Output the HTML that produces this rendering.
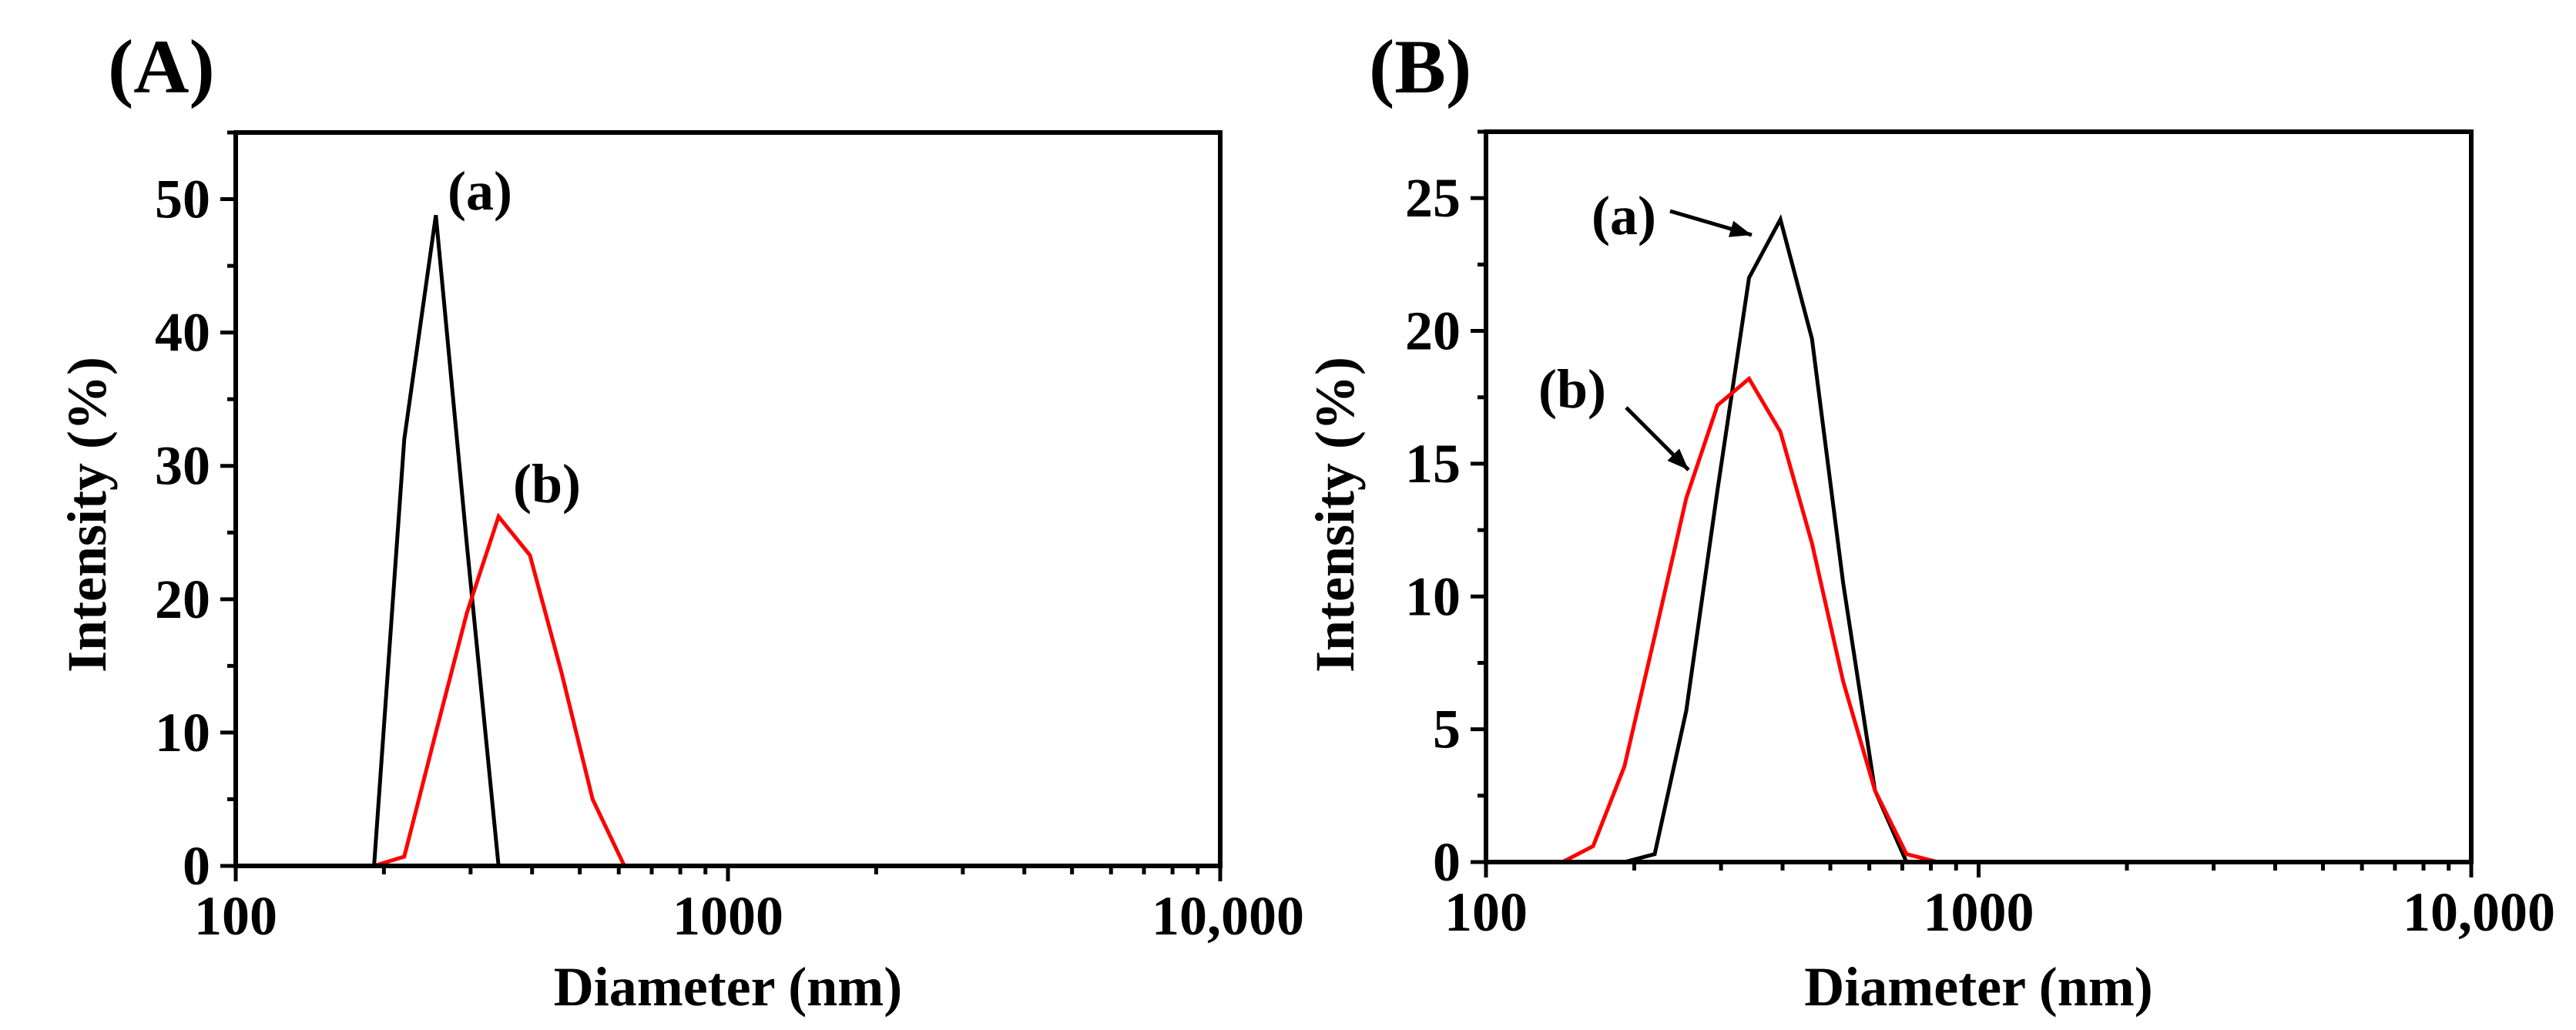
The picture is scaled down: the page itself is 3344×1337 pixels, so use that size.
<!DOCTYPE html>
<html><head><meta charset="utf-8"><style>
html,body{margin:0;padding:0;background:#fff;}
svg{display:block;font-family:"Liberation Serif",serif;font-weight:bold;}
</style></head><body>
<svg id="chart" width="3344" height="1337" viewBox="0 0 3344 1337" xmlns="http://www.w3.org/2000/svg">
<text x="140" y="120" font-size="100">(A)</text>
<text x="1777" y="120" font-size="100">(B)</text>
<g id="pa"></g>
<g id="pb"></g>
</svg>
<script>
// Panel A data
const diamA = [100,191,220,255,295,342,396,459,531,616,8700];
const blackA = [0,0,32,48.8,24,0,0,0,0,0,0];
const redA = [0,0,0.7,10,19,26.2,23.3,14.5,5,0,0];
const yTicksA = [0,10,20,30,40,50];
// Panel B data
const diamBb = [100,191,220,255,295,342,396,459,531,616,714,8700];
const blackB = [0,0,0.3,5.7,14,22,24.2,19.7,10.5,2.7,0,0];
const diamBr = [100,143,165,191,220,255,295,342,396,459,531,616,714,827,8700];
const redB = [0,0,0.6,3.6,8.5,13.7,17.2,18.2,16.2,12,6.8,2.7,0.3,0,0];
const yTicksB = [0,5,10,15,20,25];
const xTickLabels = ["100","1000","10,000"];
const xTickVals = [100,1000,10000];

const NS="http://www.w3.org/2000/svg";
function mk(parent,tag,attrs,text){const e=document.createElementNS(NS,tag);for(const k in attrs)e.setAttribute(k,attrs[k]);if(text!==undefined)e.textContent=text;parent.appendChild(e);return e;}

function panel(g,L,R,T,B,ymax,yTicks,yMinorStep,series){
  const xs=v=>L+(Math.log10(v)-2)/2*(R-L);
  const ys=v=>B-v/ymax*(B-T);
  series.forEach(s=>{
    const pts=s.x.map((d,i)=>xs(d).toFixed(1)+","+ys(s.y[i]).toFixed(1)).join(" ");
    const pl=mk(g,"polyline",{points:pts,fill:"none",stroke:s.c,"stroke-width":5,"stroke-linejoin":"miter"});
    
    
  });
  const fr=mk(g,"rect",{x:L,y:T,width:R-L,height:B-T,fill:"none",stroke:"#000","stroke-width":6});
  
  
  for(let v=0;v<=ymax+1e-9;v+=yMinorStep){
    const major=yTicks.some(t=>Math.abs(t-v)<1e-9);
    const t=mk(g,"line",{x1:L,x2:L-(major?20:11),y1:ys(v),y2:ys(v),stroke:"#000","stroke-width":5});
    
    
  }
  yTicks.forEach(v=>{
    const t=mk(g,"text",{x:L-33,y:ys(v)+24,"font-size":72,"text-anchor":"end"},String(v));
    
    
  });
  for(let dec=100;dec<10000;dec*=10){
    for(let m=1;m<=10;m++){
      const v=dec*m; const major=(m===1||m===10);
      const t=mk(g,"line",{x1:xs(v),x2:xs(v),y1:B,y2:B+(major?20:11),stroke:"#000","stroke-width":5});
      
      
    }
  }
  xTickVals.forEach((v,i)=>{
    const t=mk(g,"text",{x:xs(v)+(i===2?10:0),y:B+89,"font-size":72,"text-anchor":"middle"},xTickLabels[i]);
    
    
  });
  const xt=mk(g,"text",{x:(L+R)/2,y:1305,"font-size":72,"text-anchor":"middle"},"Diameter (nm)");
  
  
  return {xs,ys};
}

const gA=document.getElementById("pa");
panel(gA,306,1584,172,1124,55,yTicksA,5,[
  {x:diamA,y:blackA,c:"#000",name:"series-a-line"},
  {x:diamA,y:redA,c:"#f00",name:"series-b-line"}]);
let t=mk(gA,"text",{x:137,y:668,"font-size":72,"text-anchor":"middle",transform:"rotate(-90 137 668)"},"Intensity (%)");


t=mk(gA,"text",{x:581,y:272,"font-size":72},"(a)");


t=mk(gA,"text",{x:666,y:652,"font-size":72},"(b)");



const gB=document.getElementById("pb");
panel(gB,1929,3208,171,1119,27.5,yTicksB,2.5,[
  {x:diamBb,y:blackB,c:"#000",name:"series-a-line"},
  {x:diamBr,y:redB,c:"#f00",name:"series-b-line"}]);
t=mk(gB,"text",{x:1757,y:668,"font-size":72,"text-anchor":"middle",transform:"rotate(-90 1757 668)"},"Intensity (%)");


t=mk(gB,"text",{x:2066,y:304,"font-size":72},"(a)");


t=mk(gB,"text",{x:1997,y:529,"font-size":72},"(b)");


function arrow(g,x1,y1,x2,y2,name){
  const a=mk(g,"line",{x1,y1,x2,y2,stroke:"#000","stroke-width":5});
  
  
  const ang=Math.atan2(y2-y1,x2-x1),L=28,W=11;
  const bx=x2-L*Math.cos(ang),by=y2-L*Math.sin(ang);
  const p=[x2,y2,bx+W*Math.sin(ang),by-W*Math.cos(ang),bx-W*Math.sin(ang),by+W*Math.cos(ang)];
  const h=mk(g,"polygon",{points:p.join(" "),fill:"#000"});
  
  
}
arrow(gB,2168,274,2274,305,"arrow-a");
arrow(gB,2111,529,2192,610,"arrow-b");
</script>
</body></html>
